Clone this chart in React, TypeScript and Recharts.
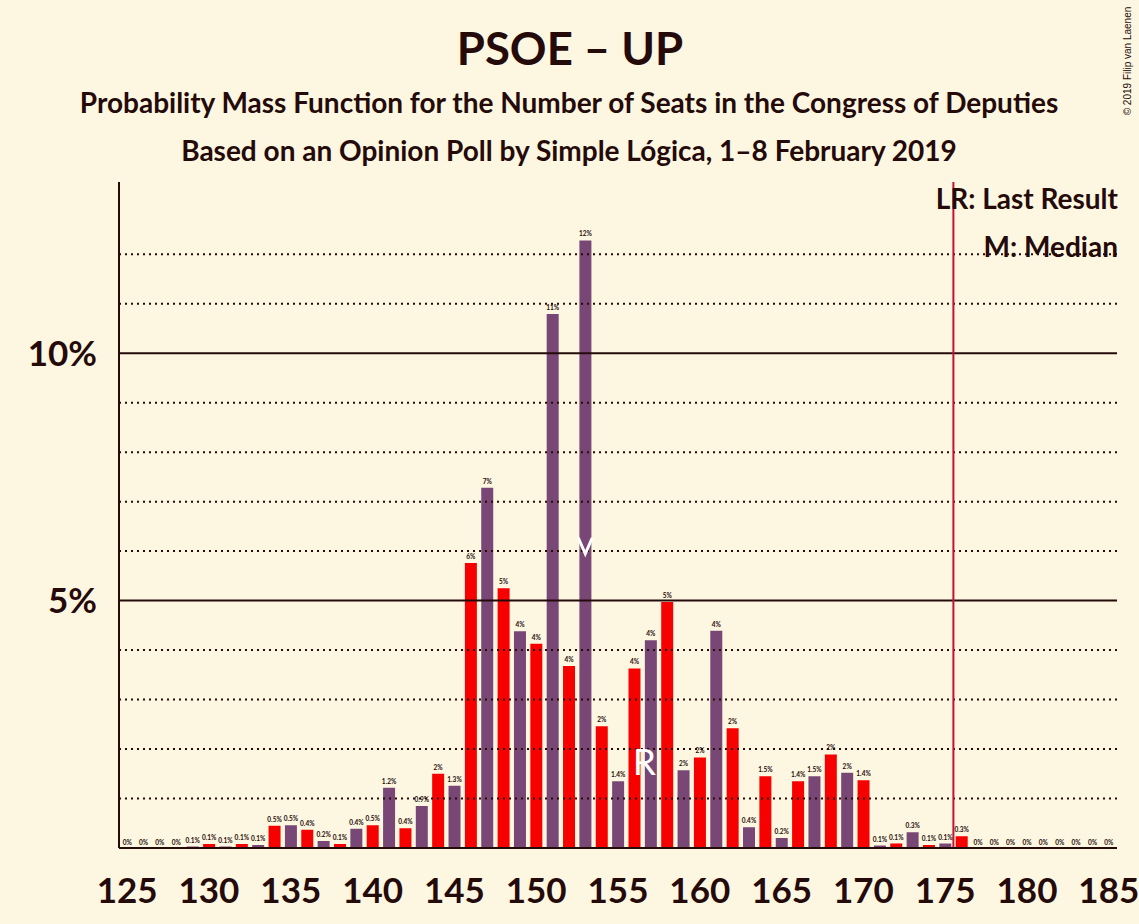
import React from "react";
import {
  BarChart,
  Bar,
  XAxis,
  YAxis,
  Cell,
  LabelList,
  ReferenceLine,
  ReferenceDot,
} from "recharts";

const seats = [
  125, 126, 127, 128, 129, 130, 131, 132, 133, 134, 135, 136, 137, 138, 139, 140,
  141, 142, 143, 144, 145, 146, 147, 148, 149, 150, 151, 152, 153, 154, 155, 156,
  157, 158, 159, 160, 161, 162, 163, 164, 165, 166, 167, 168, 169, 170, 171, 172,
  173, 174, 175, 176, 177, 178, 179, 180, 181, 182, 183, 184, 185,
];

const probabilities = [
  0, 0, 0, 0, 0.05, 0.1, 0.05, 0.1, 0.08, 0.47, 0.48, 0.39, 0.16, 0.1, 0.41, 0.48,
  1.24, 0.42, 0.87, 1.52, 1.28, 5.78, 7.3, 5.27, 4.4, 4.15, 10.81, 3.7, 12.3, 2.48, 1.37, 3.65,
  4.22, 4.99, 1.59, 1.85, 4.41, 2.44, 0.44, 1.47, 0.22, 1.37, 1.47, 1.91, 1.54, 1.39, 0.07, 0.11,
  0.34, 0.08, 0.11, 0.26, 0, 0, 0, 0, 0, 0, 0, 0, 0,
];

const barLabels = [
  "0%", "0%", "0%", "0%", "0.1%", "0.1%", "0.1%", "0.1%", "0.1%", "0.5%", "0.5%", "0.4%", "0.2%", "0.1%", "0.4%", "0.5%",
  "1.2%", "0.4%", "0.9%", "2%", "1.3%", "6%", "7%", "5%", "4%", "4%", "11%", "4%", "12%", "2%", "1.4%", "4%",
  "4%", "5%", "2%", "2%", "4%", "2%", "0.4%", "1.5%", "0.2%", "1.4%", "1.5%", "2%", "2%", "1.4%", "0.1%", "0.1%",
  "0.3%", "0.1%", "0.1%", "0.3%", "0%", "0%", "0%", "0%", "0%", "0%", "0%", "0%", "0%",
];

const yTicks = [5, 10];
const dottedGrid = [1, 2, 3, 4, 6, 7, 8, 9, 11, 12];
const solidGrid = [5, 10];
const yMax = 13.46;

const medianSeat = 153;
const medianMarkValue = 6.27;
const lastResultSeat = 156;
const lastResultMarkValue = 1.47;
const majoritySeat = 176;

const title = "PSOE – UP";
const subtitle1 = "Probability Mass Function for the Number of Seats in the Congress of Deputies";
const subtitle2 = "Based on an Opinion Poll by Simple Lógica, 1–8 February 2019";
const legendLR = "LR: Last Result";
const legendM = "M: Median";
const copyright = "© 2019 Filip van Laenen";

const BG = "#fdf7e1";
const INK = "#250a0a";
const RED = "#f70000";
const PURPLE = "#784776";
const MAJ = "#c8102e";
const FONT = "Lato, 'Open Sans', sans-serif";

const data = seats.map((s, i) => ({ seat: s, p: probabilities[i], label: barLabels[i] }));
const zeroData = data.filter((d) => d.p === 0);

const MedianShape = (props: any) => {
  const { cx, cy } = props;
  if (cx == null || cy == null) return null;
  return (
    <path
      d={`M ${cx - 7} ${cy} L ${cx} ${cy + 16} L ${cx + 7} ${cy}`}
      fill="none"
      stroke="#ffffff"
      strokeWidth={3}
    />
  );
};

const LastResultShape = (props: any) => {
  const { cx, cy } = props;
  if (cx == null || cy == null) return null;
  return (
    <text
      x={cx + 10}
      y={cy}
      textAnchor="middle"
      fill="#ffffff"
      fontFamily={FONT}
      fontSize={37}
    >
      R
    </text>
  );
};

const makeZeroLabel = (text: string) => (props: any) => {
  const { cx, cy } = props;
  if (cx == null || cy == null) return null;
  return (
    <text
      x={cx}
      y={cy - 3}
      textAnchor="middle"
      fill={INK}
      fontFamily={FONT}
      fontWeight={700}
      fontSize={6.5}
    >
      {text}
    </text>
  );
};

export default function App() {
  return (
    <div
      style={{
        position: "absolute",
        left: 0,
        top: 0,
        width: 1139,
        height: 924,
        background: BG,
        overflow: "hidden",
      }}
    >
      <svg
        width={1139}
        height={924}
        style={{ position: "absolute", left: 0, top: 0, pointerEvents: "none" }}
      >
        <text x={570} y={65} textAnchor="middle" fontFamily={FONT} fontWeight={700} fontSize={45.5} fill={INK}>
          {title}
        </text>
        <text x={569} y={113} textAnchor="middle" fontFamily={FONT} fontWeight={700} fontSize={28} fill={INK}>
          {subtitle1}
        </text>
        <text x={569} y={161} textAnchor="middle" fontFamily={FONT} fontWeight={700} fontSize={28} fill={INK}>
          {subtitle2}
        </text>
        <text
          x={1131}
          y={61}
          textAnchor="middle"
          fontFamily="'Liberation Sans', Arial, sans-serif"
          fontSize={10}
          fill={INK}
          transform="rotate(-90 1131 61)"
        >
          {copyright}
        </text>
      </svg>
      <div style={{ position: "absolute", left: 0, top: 0 }}>
        <BarChart
          width={1139}
          height={924}
          data={data}
          margin={{ top: 182, right: 22, bottom: 16, left: 0 }}
          barCategoryGap="8%"
        >
          <XAxis
            dataKey="seat"
            type="category"
            interval={4}
            height={60}
            tickLine={false}
            tickSize={0}
            tickMargin={30}
            axisLine={{ stroke: INK, strokeWidth: 2 }}
            tick={{ fill: INK, fontSize: 35, fontWeight: 700, fontFamily: FONT }}
          />
          <YAxis
            type="number"
            domain={[0, yMax]}
            ticks={yTicks}
            width={119}
            tickLine={false}
            tickSize={0}
            tickMargin={22}
            allowDataOverflow
            axisLine={{ stroke: INK, strokeWidth: 2 }}
            tick={{ fill: INK, fontSize: 35, fontWeight: 700, fontFamily: FONT }}
            tickFormatter={(v: number) => `${v}%`}
          />
          {dottedGrid.map((g) => (
            <ReferenceLine
              key={`d${g}`}
              y={g}
              stroke={INK}
              strokeWidth={2}
              strokeDasharray="2 4"
            />
          ))}
          {solidGrid.map((g) => (
            <ReferenceLine key={`s${g}`} y={g} stroke={INK} strokeWidth={2} />
          ))}
          <Bar dataKey="p" isAnimationActive={false} stroke={BG} strokeWidth={2}>
            {data.map((d) => (
              <Cell key={d.seat} fill={d.seat % 2 === 0 ? RED : PURPLE} />
            ))}
            <LabelList
              dataKey="label"
              position="top"
              offset={3}
              fill={INK}
              fontSize={6.5}
              fontWeight={700}
              fontFamily={FONT}
            />
          </Bar>
          {zeroData.map((d) => (
            <ReferenceDot
              key={`z${d.seat}`}
              x={d.seat}
              y={d.p}
              r={0}
              shape={makeZeroLabel(d.label)}
              isFront
            />
          ))}
          <ReferenceLine x={majoritySeat} position="start" stroke={MAJ} strokeWidth={2} />
          <ReferenceDot
            x={medianSeat}
            y={medianMarkValue}
            r={0}
            shape={MedianShape}
            isFront
          />
          <ReferenceDot
            x={lastResultSeat}
            y={lastResultMarkValue}
            r={0}
            shape={LastResultShape}
            isFront
          />
        </BarChart>
      </div>
      <svg
        width={1139}
        height={924}
        style={{ position: "absolute", left: 0, top: 0, pointerEvents: "none" }}
      >
        <text x={1118} y={209} textAnchor="end" fontFamily={FONT} fontWeight={700} fontSize={28} fill={INK}>
          {legendLR}
        </text>
        <text x={1118} y={257} textAnchor="end" fontFamily={FONT} fontWeight={700} fontSize={28} fill={INK}>
          {legendM}
        </text>
      </svg>
    </div>
  );
}
